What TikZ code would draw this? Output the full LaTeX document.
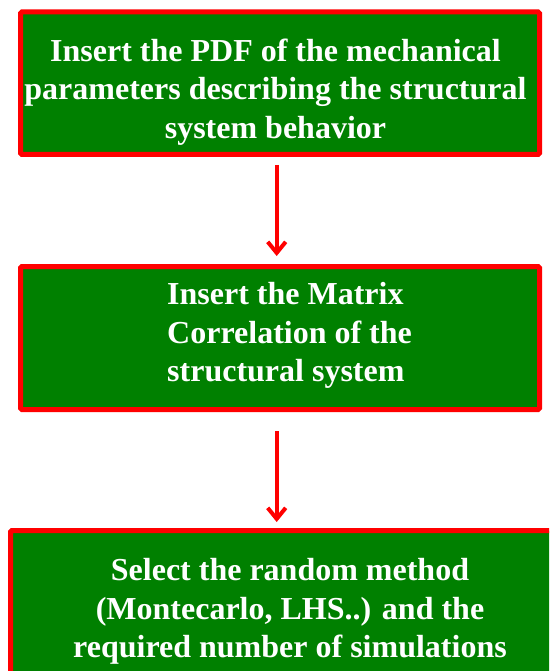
\documentclass[tikz,border=0pt]{standalone}
\usepackage{fontspec}
\setmainfont{Liberation Serif}
\usetikzlibrary{arrows.meta}
\definecolor{boxgreen}{RGB}{0,128,0}
\definecolor{boxred}{RGB}{255,0,0}
\begin{document}
\begin{tikzpicture}[x=1pt,y=-1pt,
  stepbox/.style={draw=boxred, fill=boxgreen, line width=5pt, rounded corners=1.5pt, inner sep=0pt},
  steptext/.style={text=white, font=\fontsize{32}{38.5}\selectfont\bfseries, inner sep=0pt},
  flow/.style={draw=boxred, line width=4pt, -{Straight Barb[length=11pt,width=18pt]}}]
\useasboundingbox (0,0) rectangle (549,671);
\clip (0,0) rectangle (549,671);
\node[stepbox, minimum width=519pt, minimum height=142.5pt] (b1) at (280,83.25) {};
\node[stepbox, minimum width=519pt, minimum height=143pt] (b2) at (280,338) {};
\node[stepbox, minimum width=559pt, minimum height=150pt] (b3) at (290,605.5) {};
\node[steptext, align=center] (t1) at (275.5,92) {Insert the PDF of the mechanical\\parameters describing the structural\\system behavior};
\node[steptext, align=left, anchor=west] (t2) at (167,335.5) {Insert the Matrix\\Correlation of the\\structural system};
\node[steptext, align=center] (t3) at (290,611.5) {Select the random method\\(Montecarlo, LHS..) and the\\required number of simulations};
\draw[flow] ([shift={(-3.3,8)}]b1.south) -- ([shift={(-3.3,-8)}]b2.north);
\draw[flow] ([shift={(-3.3,19)}]b2.south) -- ([shift={(-13.3,-6)}]b3.north);
\end{tikzpicture}
\end{document}
